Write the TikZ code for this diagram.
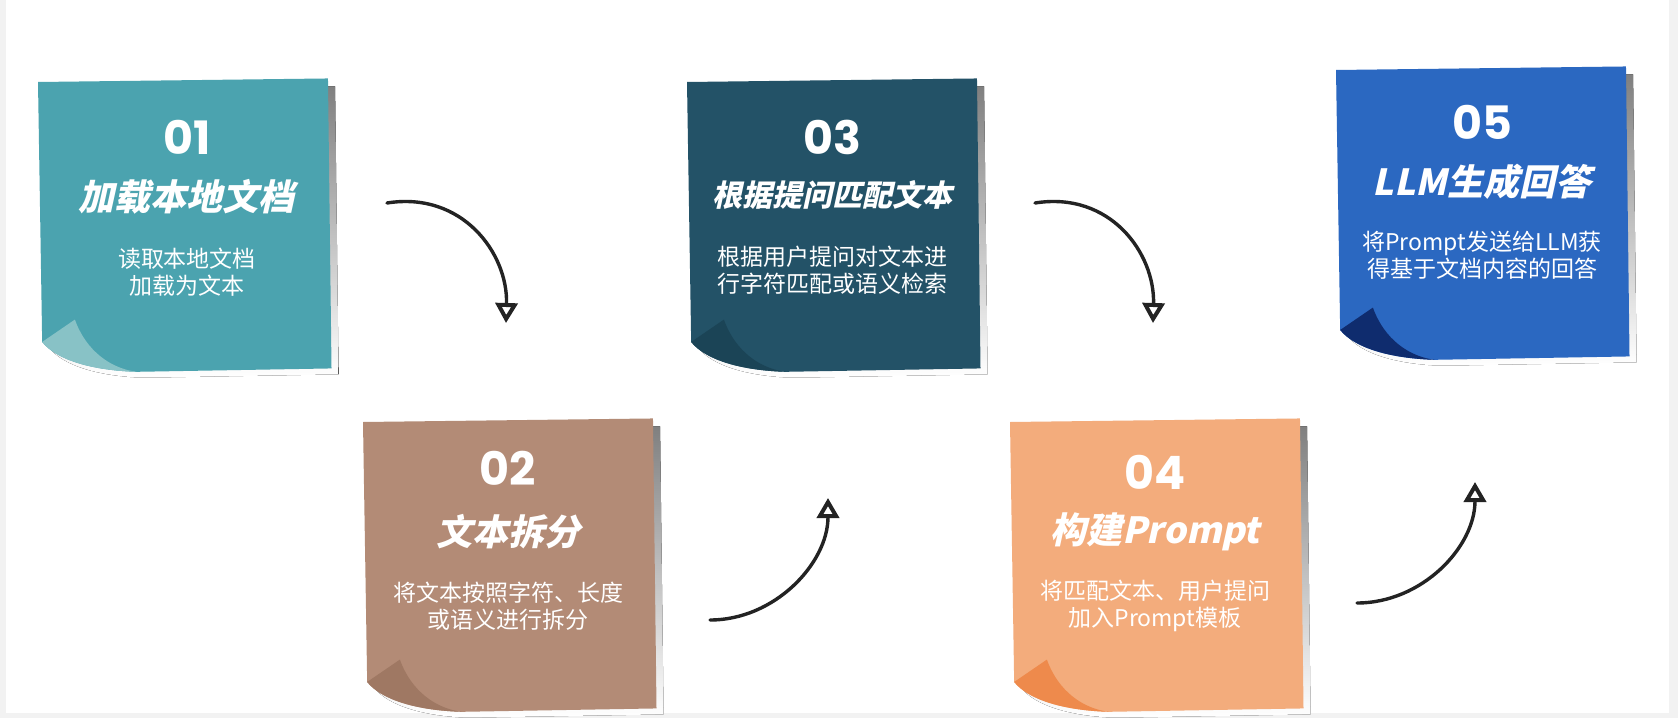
\documentclass[tikz,border=0pt]{standalone}
\usepackage{fontspec}
\setmainfont{Noto Sans CJK SC}
\newfontfamily\titlefont[FakeSlant=0.22]{Noto Sans CJK SC}
\newfontfamily\numfont{Poppins}
\usetikzlibrary{arrows.meta}

\definecolor{note1}{HTML}{4BA3AF}
\definecolor{flap1}{HTML}{88C2C6}
\definecolor{note2}{HTML}{B38B76}
\definecolor{flap2}{HTML}{9F7863}
\definecolor{note3}{HTML}{235267}
\definecolor{flap3}{HTML}{1B4456}
\definecolor{note4}{HTML}{F3AC7C}
\definecolor{flap4}{HTML}{EE8A4C}
\definecolor{note5}{HTML}{2B68C1}
\definecolor{flap5}{HTML}{0F2C6E}
\definecolor{shade}{HTML}{EBEBEB}
\definecolor{bggray}{HTML}{F2F2F2}
\definecolor{ink}{HTML}{232323}

\tikzstyle{num}=[text=white, font=\numfont\bfseries\fontsize{23}{25}\selectfont]
\tikzstyle{headline}=[text=white, font=\titlefont\bfseries\fontsize{18}{20}\selectfont]
\tikzstyle{bodytext}=[text=white, align=center, font=\fontsize{11.5}{13.5}\selectfont]
\tikzstyle{curvearrow}=[ink, line width=1.7pt, line cap=round, -{Triangle[open, length=10pt, width=11pt, line width=2pt]}]

% sticky note: #1 top left corner, #2 paper colour, #3 curl colour
\newcommand{\notepaper}[3]{%
  \begin{scope}[shift={#1}, rotate=0.7]
    \fill[shade] (7,8) -- (297,8) -- (297,296) -- (102,297)
      .. controls (57,295) and (22,284) .. (8,266) -- cycle;
    \fill[#2] (0,0) -- (290,0) -- (290,290) -- (95,291)
      .. controls (50,289) and (15,278) .. (1,260) -- cycle;
    \fill[#3] (1,260) -- (34,238) .. controls (42,262) and (62,286) .. (95,291)
      .. controls (50,289) and (15,278) .. (1,260) -- cycle;
  \end{scope}}

\begin{document}
\begin{tikzpicture}[x = 0.5pt, y = -0.5pt]
\useasboundingbox (0,0) rectangle (1678,718);
% Background
    \fill[bggray] (0,0) rectangle (1678,718);
    \fill[white] (6,0) rectangle (1669,713);
% Notes
    \notepaper{(38,82)}{note1}{flap1}
    \notepaper{(363,422)}{note2}{flap2}
    \notepaper{(687,82)}{note3}{flap3}
    \notepaper{(1010,422)}{note4}{flap4}
    \notepaper{(1336,70)}{note5}{flap5}
% Texts
    \node[num] (num1) at (187,137) {01};
    \node[headline] (head1) at (186,197) {加载本地文档};
    \node[bodytext] (body1) at (187,272) {读取本地文档\\加载为文本};

    \node[num] (num2) at (508,468) {02};
    \node[headline] (head2) at (508,532) {文本拆分};
    \node[bodytext] (body2) at (508,606) {将文本按照字符、长度\\或语义进行拆分};

    \node[num] (num3) at (832,137) {03};
    \node[headline, font=\titlefont\bfseries\fontsize{15}{17}\selectfont] (head3) at (832,195) {根据提问匹配文本};
    \node[bodytext] (body3) at (832,270) {根据用户提问对文本进\\行字符匹配或语义检索};

    \node[num] (num4) at (1155,472) {04};
    \node[headline] (head4) at (1155,532) {构建Prompt};
    \node[bodytext] (body4) at (1155,606) {将匹配文本、用户提问\\加入Prompt模板};

    \node[num] (num5) at (1482,122) {05};
    \node[headline] (head5) at (1482,182) {LLM生成回答};
    \node[bodytext] (body5) at (1482,255) {将Prompt发送给LLM获\\得基于文档内容的回答};
% Arrows between the notes
    \coordinate (from12) at (387,203);
    \coordinate (to12) at (506,323);
    \coordinate (from23) at (710,620);
    \coordinate (to23) at (828,498);
    \coordinate (from34) at (1035,203);
    \coordinate (to34) at (1153,323);
    \coordinate (from45) at (1357,603);
    \coordinate (to45) at (1475,482);
    \draw[curvearrow] (from12) .. controls +(75,-12) and +(2,-70) .. (to12);
    \draw[curvearrow] (from23) .. controls +(65,0) and +(0,65) .. (to23);
    \draw[curvearrow] (from34) .. controls +(75,-12) and +(2,-70) .. (to34);
    \draw[curvearrow] (from45) .. controls +(65,0) and +(0,65) .. (to45);
\end{tikzpicture}
\end{document}
